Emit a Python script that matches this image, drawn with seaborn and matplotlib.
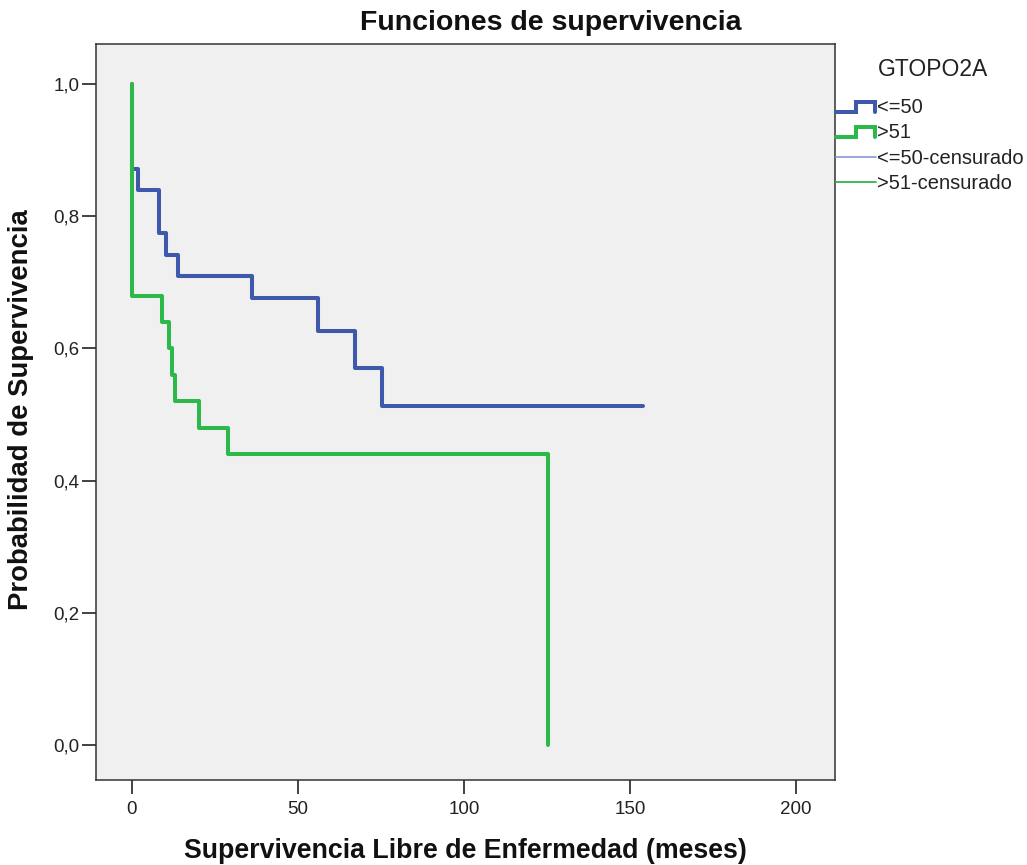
import numpy as np
import pandas as pd
import matplotlib
matplotlib.use("Agg")
import matplotlib.pyplot as plt
import seaborn as sns
from matplotlib.lines import Line2D
from matplotlib.legend_handler import HandlerBase
from matplotlib.ticker import FuncFormatter

# Kaplan-Meier estimates per group (time in months, survival after each step)
low_times = [0, 0, 1.9, 8.1, 10.2, 14.0, 36.2, 56.1, 67.2, 75.2, 154.0]
low_surv = [1.0, 0.871, 0.839, 0.774, 0.742, 0.710, 0.676, 0.627, 0.570, 0.513, 0.513]
high_times = [0, 0, 9.0, 11.1, 12.0, 13.0, 20.2, 29.0, 125.4]
high_surv = [1.0, 0.680, 0.640, 0.600, 0.560, 0.520, 0.480, 0.440, 0.0]

group_labels = ["<=50", ">51"]
group_colors = ["#3E58AC", "#2DB84A"]
censor_colors = ["#8FA0D8", "#2DB84A"]
legend_title = "GTOPO2A"

x_ticks = [0, 50, 100, 150, 200]
y_ticks = [0.0, 0.2, 0.4, 0.6, 0.8, 1.0]

df = pd.concat([
    pd.DataFrame({"t": low_times, "s": low_surv, "g": group_labels[0]}),
    pd.DataFrame({"t": high_times, "s": high_surv, "g": group_labels[1]}),
], ignore_index=True)

sns.set_style("white")
plt.rcParams["font.family"] = ["Liberation Sans", "DejaVu Sans"]

fig = plt.figure(figsize=(10.27, 8.65), dpi=100)
ax = fig.add_axes([96 / 1027, 1 - 780 / 865, (835 - 96) / 1027, (780 - 44) / 865])
ax.set_facecolor("#F0F0F0")

sns.lineplot(data=df, x="t", y="s", hue="g", hue_order=group_labels,
             palette=group_colors, estimator=None, sort=False,
             drawstyle="steps-post", linewidth=2.9, legend=False, ax=ax)

ax.set_xlim(-10.8, 211.7)
ax.set_ylim(-0.053, 1.0605)
ax.set_xticks(x_ticks)
ax.set_yticks(y_ticks)
ax.yaxis.set_major_formatter(FuncFormatter(lambda v, p: f"{v:.1f}".replace(".", ",")))
ax.tick_params(axis="both", direction="out", length=10, width=1.2, color="#222222",
               labelsize=13.5, labelcolor="#222222", bottom=True, left=True)
ax.tick_params(axis="x", pad=5)
ax.tick_params(axis="y", pad=2)
for sp in ax.spines.values():
    sp.set_visible(True)
    sp.set_color("#333333")
    sp.set_linewidth(1.1)

ax.set_xlabel("Supervivencia Libre de Enfermedad (meses)", fontsize=19.3,
              fontweight="bold", color="#111111")
ax.xaxis.set_label_coords(0.5, -0.079)
ax.set_ylabel("Probabilidad de Supervivencia", fontsize=19.8,
              fontweight="bold", color="#111111")
ax.yaxis.set_label_coords(-0.084, 0.503)
fig.text(551 / 1027, 1 - 23 / 865, "Funciones de supervivencia", fontsize=20.5,
         fontweight="bold", color="#111111", ha="center", va="center")


class StepHandler(HandlerBase):
    def create_artists(self, legend, orig_handle, xdescent, ydescent,
                       width, height, fontsize, trans):
        x0 = -xdescent
        lo = -ydescent + 0.1 * height
        hi = -ydescent + 0.8 * height
        xs = [x0, x0 + 0.5 * width, x0 + 0.5 * width, x0 + 0.97 * width, x0 + 0.97 * width]
        ys = [lo, lo, hi, hi, lo]
        ln = Line2D(xs, ys, color=orig_handle.get_color(),
                    linewidth=orig_handle.get_linewidth(), solid_joinstyle="miter")
        ln.set_transform(trans)
        return [ln]


step_handles = [Line2D([], [], color=c, linewidth=2.9) for c in group_colors]
cens_handles = [Line2D([], [], color=c, linewidth=1.3) for c in censor_colors]
labels = group_labels + [f"{g}-censurado" for g in group_labels]

leg = fig.legend(step_handles + cens_handles, labels,
                 handler_map={h: StepHandler() for h in step_handles},
                 loc="upper left", bbox_to_anchor=(836 / 1027, 1 - 98 / 865),
                 frameon=False, fontsize=14.5, handlelength=2.0,
                 handletextpad=0.05, labelspacing=0.32, borderaxespad=0,
                 borderpad=0)
for t in leg.get_texts():
    t.set_color("#222222")
fig.text(878 / 1027, 1 - 70 / 865, legend_title, fontsize=16.5, color="#222222",
         ha="left", va="center")

fig.savefig("out.png", dpi=100, facecolor="white")
